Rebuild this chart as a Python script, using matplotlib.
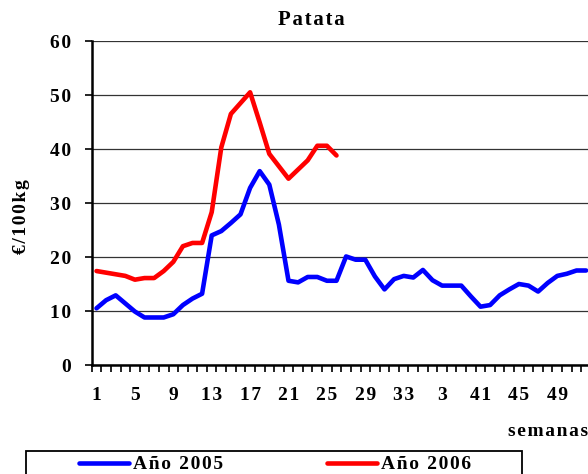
import matplotlib
matplotlib.use("Agg")
import matplotlib.pyplot as plt
import numpy as np
from matplotlib.patches import Rectangle

# --------- Data ---------
weeks_2005 = list(range(1, 53))
precio_2005 = [10.5, 12.0, 12.9, 11.4, 9.9, 8.8, 8.8, 8.8, 9.4, 11.1, 12.3, 13.2,
               24.0, 24.8, 26.3, 27.9, 32.8, 35.9, 33.4, 26.0,
               15.6, 15.3, 16.3, 16.3, 15.6, 15.6, 20.1, 19.5, 19.5, 16.4,
               14.0, 15.9, 16.5, 16.2, 17.6, 15.7, 14.7, 14.7, 14.7, 12.7,
               10.8, 11.1, 12.9, 14.0, 15.0, 14.7, 13.6, 15.2, 16.5, 16.9, 17.5, 17.5]
weeks_2006 = list(range(1, 27))
precio_2006 = [17.4, 17.1, 16.8, 16.5, 15.8, 16.1, 16.1, 17.4, 19.1, 22.0, 22.6, 22.6,
               28.3, 40.3, 46.5, 48.5, 50.5, 44.9, 39.1, 36.8, 34.5, 36.2, 37.9,
               40.6, 40.6, 38.8]
label_weeks = [1, 5, 9, 13, 17, 21, 25, 29, 33, 37, 41, 45, 49]
label_text = ["1", "5", "9", "13", "17", "21", "25", "29", "33", "3", "41", "45", "49"]
y_ticks = [0, 10, 20, 30, 40, 50, 60]

FONT = ["Liberation Serif", "DejaVu Sans"]
FS = 14


def spaced(s):
    # rough imitation of the letter spacing in the original
    return "\u200a".join(s)


fig = plt.figure(figsize=(5.88, 4.74), dpi=100)
ax = fig.add_axes([91.7 / 588, 109 / 474, 499.2 / 588, 324 / 474])

ax.plot(weeks_2005, precio_2005, color="#0000FF", lw=3.3, label=spaced("Año 2005"),
        solid_joinstyle="round", solid_capstyle="round", zorder=3)
ax.plot(weeks_2006, precio_2006, color="#FF0000", lw=3.3, label=spaced("Año 2006"),
        solid_joinstyle="round", solid_capstyle="round", zorder=3)

ax.set_xlim(0.5, 52.5)
ax.set_ylim(0, 60)
ax.set_yticks(y_ticks)
ax.set_yticklabels([spaced(str(v)) for v in y_ticks], family=FONT, fontsize=FS,
                   fontweight="bold")
ax.yaxis.grid(True, color="#333333", lw=0.9)
ax.set_axisbelow(True)

# category boundaries carry the tick marks, labels sit on category centres
ax.set_xticks(np.arange(0.5, 53, 1))
ax.set_xticklabels([])
ax.set_xticks(label_weeks, minor=True)
ax.set_xticklabels([spaced(t) for t in label_text], minor=True, family=FONT,
                   fontsize=FS, fontweight="bold")
ax.tick_params(axis="x", which="major", direction="out", length=5, width=1.2)
ax.tick_params(axis="x", which="minor", length=0, pad=16)
ax.tick_params(axis="y", direction="out", length=5, width=1.2, pad=10)

for side in ("top", "right"):
    ax.spines[side].set_visible(False)
for side in ("left", "bottom"):
    ax.spines[side].set_linewidth(1.8)
    ax.spines[side].set_zorder(4)

fig.text(311.7 / 588, 1 - 20 / 474, spaced("Patata"), ha="center", va="center",
         family=FONT, fontsize=FS + 1, fontweight="bold")
fig.text(22 / 588, 1 - 217 / 474, spaced("€/100kg"), ha="center", va="center",
         rotation=90, family=FONT, fontsize=FS, fontweight="bold")
fig.text(588 / 588, 1 - 432 / 474, spaced("semanas"), ha="right", va="center",
         family=FONT, fontsize=FS, fontweight="bold")

# legend frame runs off the bottom of the picture, as in the original
fig.patches.append(Rectangle((26 / 588, -0.05), (522 - 26) / 588, 0.05 + 23 / 474,
                             transform=fig.transFigure, fill=False, ec="black", lw=1.3))
fig.legend(loc="upper center", bbox_to_anchor=(275 / 588, 23 / 474), ncol=2,
           frameon=False, handlelength=2.6, handletextpad=0.2, columnspacing=5.3,
           borderaxespad=0, borderpad=0.25,
           prop={"family": FONT, "size": FS, "weight": "bold"})

fig.savefig("out.png", dpi=100)
